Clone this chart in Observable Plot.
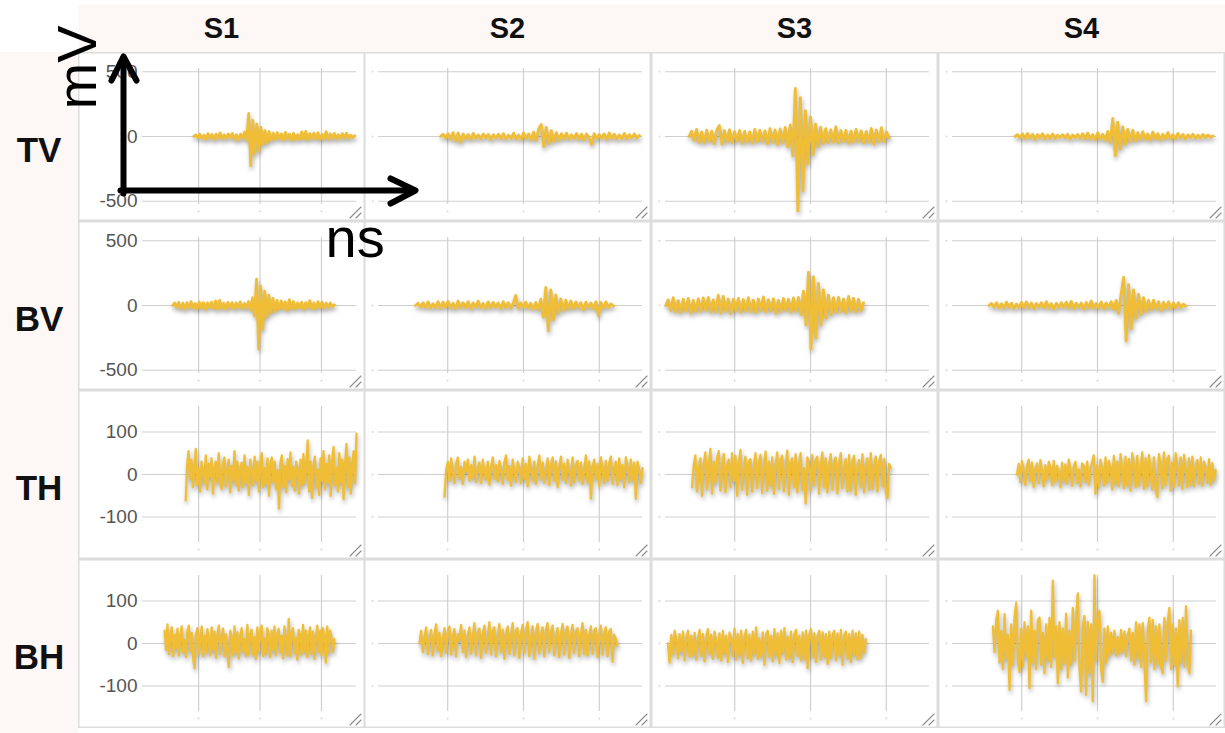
<!DOCTYPE html>
<html>
<head>
<meta charset="utf-8">
<script src="https://cdn.jsdelivr.net/npm/d3@7"></script>
<script src="https://cdn.jsdelivr.net/npm/@observablehq/plot@0.6"></script>
<style>
  html, body { margin: 0; padding: 0; background: #fff; }
  #chart { position: relative; width: 1225px; height: 733px; overflow: hidden;
           font-family: "Liberation Sans", Arial, Helvetica, sans-serif; }
  .band { position: absolute; background: #fdf7f6; }
  .colhead { position: absolute; display: flex; align-items: center; justify-content: center;
             font-weight: bold; font-size: 29px; color: #111; }
  .rowhead { position: absolute; display: flex; align-items: center; justify-content: center;
             font-weight: bold; font-size: 35px; color: #111; box-sizing: border-box; }
  .panel { position: absolute; box-shadow: inset 0 0 0 1.5px #dcdcdc; }
  .panel svg { position: absolute; left: 0; top: 0; }
  .panel g[aria-label="line"] { filter: drop-shadow(1px 3px 2px rgba(0, 0, 0, 0.32)); }
  #guides { position: absolute; left: 0; top: 0; pointer-events: none; }
</style>
</head>
<body>
<div id="chart"></div>
<script>
// Sensors (columns) and channels (rows)
const sensors = ["S1", "S2", "S3", "S4"];
const channels = ["TV", "BV", "TH", "BH"];

// Axis ticks: time in ns, amplitude in mV
const timeTicks = [100, 200, 300];
const timeDomain = [8.7, 357];
const verticalTicks = [-500, 0, 500];
const horizontalTicks = [-100, 0, 100];
const verticalDomain = [-525, 525];
const horizontalDomain = [-160, 160];

// Record start / end time (ns) per channel row, per sensor column
const startNs = [
  [92, 90.5, 39.7, 91.2],
  [57.7, 57.5, 9, 56.9],
  [79, 95.8, 43.7, 93.8],
  [44.7, 62.8, 12, 62]
];
const endNs = [
  [354, 353, 303.6, 352.4],
  [321, 318.7, 270, 316.7],
  [357, 357, 306, 356],
  [321, 324, 273, 323.4]
];

// Sampled traces (mV), evenly spaced between start and end
const tvS1 = [0, 12, -8, 18, -14, 10, -20, 22, -12, 16, -24, 18, -10, 28, -18, 12, -16, 20, -8, 24, -22, 14, -28, 18, -12, 35, -30,
  178, -225, 124, -132, 95, -110, 70, -60, 45, -50, 38, -30,
  25, -22, 30, -18, 20, -28, 32, -15, 18, -30, 25, -20, 14, -24, 35, -18, 40, -26, 22, -14, 26, -20, 30, -24, 16, -18, 38, -22, 20, -16, 24, -20, 14, -12, 22, -16, 26, -14, 10, -8, 6];
const tvS2 = [0, 18, -12, 22, -20, 30, -35, 28, -45, 20, -18, 15, -22, 24, -14, 12, -18, 20, -10, 16, -24, 14, -12, 18, -16, 22, -20, 10, -14, 26, -18, 12, -22, 28, -16, 20, -26, 35,
  -30, 60, 93, -78, 70, -55, 45, -40, 30, -28,
  22, -18, 26, -20, 14, -16, 24, -22, 18, -26, 20, -14, -60, 22, -18, 16, -12, 20, -24, 28, -14, 18, -20, 12, -16, 24, -18, 14, -10, 20, -12, 8];
const tvS3 = [0, 40, -30, 55, -45, 35, -50, 48, -38, 42, -55, 50, 85, -60, 45, -40, 52, -48, 38, -35, 46, -52, 40, -44, 36, -50, 55, -42, 48, -38, 44, -56, 60, -45, 50, -62, 58, -48, 70, -80, 90,
  -150, 372, -574, 300, -420, 200, -210, 150, -140, 95, -80, 70,
  -55, 60, -48, 52, -45, 75, -50, 45, -40, 48, -52, 42, -46, 55, -38, 44, -50, 40, -45, 62, -58, 50, -42, 68, -40, 35, -10];
const tvS4 = [0, 14, -10, 20, -16, 24, -12, 18, -22, 15, -10, 22, -18, 12, -14, 20, -16, 10, -8, 14, -12, 18, -20, 12, -10, 16, -14, 22, -18, 26, -20, 14, -24, 30, -22, 18, -28, 40,
  -50, 140, -147, 110, -95, 75, -60, 55, -40, 48, -35, 30,
  -25, 38, -22, 20, -30, 35, -18, 22, -28, 18, -16, 30, -20, 14, -18, 24, -12, 16, -20, 12, -10, 18, -14, 10, -12, 16, -8, 12, -6, 4];

const bvS1 = [0, 20, -15, 25, -22, 18, -28, 22, -16, 30, -20, 15, -25, 28, -18, 22, -30, 20, -14, 26, -22, 35, -28, 40, -20, 18, -30, 24, -16, 22, -26, 20, -18, 28, -24, 16, -20, 30, -35, 60,
  -80, 203, -336, 150, -180, 110, -90, 80, -60, 55, -45, 40,
  -30, 35, -25, 28, -38, 45, -22, 30, -26, 20, -18, 25, -30, 22, -16, 38, -28, 20, -24, 30, -18, 26, -22, 18, -14, 20, -10, 6];
const bvS2 = [0, 18, -12, 22, -16, 28, -20, 14, -18, 30, -22, 26, -14, 32, -20, 18, -24, 35, -16, 22, -18, 30, -26, 20, -14, 34, -20, 16, -22, 28, -18, 24, -12, 20, -26, 30, -16, 22, -20, 18, 78, -24, 20, -16, 26, -22, 18, -28, 24, -35, 50,
  -90, 140, -195, 120, -110, 80, -60, 50, -40, 42,
  -30, 35, -24, 28, -20, 22, -35, 26, -18, 20, -24, 30, -78, 25, -20, 28, -16, 12, -4];
const bvS3 = [0, 45, -40, 60, -50, 38, -55, 48, -42, 55, -60, 40, -48, 52, -45, 58, -38, 62, -52, 44, -50, 80, -58, 70, -45, 50, -62, 48, -40, 55, -52, 46, -44, 60, -48, 42, -56, 50, -40, 66, -50, 45, -42, 52, -60, 40, -46, 54, -38, 48, -52, 58, -45, 62, -70, 110,
  -150, 258, -336, 220, -250, 170, -150, 120, -100, 80, -70, 60,
  -55, 62, -48, 50, -58, 70, -45, 55, -50, 48, -40, 20];
const bvS4 = [0, 16, -12, 22, -18, 14, -20, 26, -14, 18, -22, 12, -16, 24, -20, 28, -15, 20, -24, 16, -12, 22, -18, 30, -20, 14, -26, 18, -16, 22, -14, 26, -20, 32, -24, 18, -16, 20, -28, 24, -18, 35, -22, 16, -20, 28, -26, 20, -18, 30, -32, 40, -60,
  90, 218, -273, 160, -180, 120, -100, 85, -70, 60, -48, 40,
  -35, 42, -28, 30, -40, 25, -22, 30, -26, 20, -18, 22, -14, 10, -4];

const thS1 = [-61, 20, 55, -10, 35, -30, 10, 60, -25, 15, -40, 30, 5, -20, 45, -35, 25, -5, 38, -45,
  15, 30, -20, 50, -10, -35, 25, 40, -28, 10, 35, -42, 20, -15, 55, -25, 30, -38, 12, 28,
  -30, 45, -20, 18, -48, 35, 8, -25, 42, -15, 30, -40, 22, 50, -30, 15, -22, 38, -50, 25,
  40, -18, 30, -35, 10, -80, 28, 45, -30, 20, -42, 36, -12, 52, -28, 18, -38, 30, 10, -45,
  35, -25, 48, -20, 15, 80, -40, 30, -55, 20, 42, -30, 12, -48, 38, -15, 55, -35, 25, -20,
  45, -50, 30, 65, -25, 15, -40, 50, -18, 35, -58, 22, 72, -30, 40, -45, 20, 55, -20, 96];
const thS2 = [-52, 10, 30, -15, 38, 5, -20, 25, 40, -10, 18, -22, 30, 8, 35, -15, 22, -8, 42, -18,
  12, 28, -20, 35, 5, -12, 30, -24, 18, 40, -10, 22, -16, 32, 10, -22, 28, 45, -14, 20,
  -26, 35, 8, -18, 30, 15, -20, 38, -10, 25, -28, 42, 12, -15, 30, -22, 20, 45, -12, 28,
  -20, 10, 38, -25, 22, 40, -15, 30, -30, 18, 42, -12, 25, -20, 35, 8, -26, 40, -18, 22,
  32, -15, 28, -22, 12, 45, -20, 30, -57, 18, 35, -10, 25, -28, 40, 10, -20, 32, -15, 28,
  42, -22, 15, 30, -25, 38, -10, 22, -30, 40, 18, -18, 35, -12, 28, -57, 30, 12, -20, 15];
const thS3 = [-30, 20, 45, -40, 10, 38, -50, 25, 52, -35, 15, 60, -45, 30, -20, 40, 55, -38, 12, 48,
  -42, 20, 35, -30, 50, -15, 44, -50, 22, 58, -36, 10, 42, -48, 30, 36, -40, 18, 50, -32,
  25, 46, -44, 15, 54, -38, 30, -25, 40, -46, 20, 52, -34, 35, 44, -40, 12, 56, -48, 28,
  38, -30, 48, -42, 20, 50, -36, 15, -68, 40, 30, -38, 46, -25, 34, 42, -45, 22, 52, -30,
  38, -42, 18, 48, -36, 30, 40, -44, 25, 50, -32, 15, 36, -40, 46, -38, 28, 44, -48, 20,
  34, -30, 48, -42, 22, 38, -36, 50, -34, 18, 42, -40, 30, 46, -28, 36, -40, -55, 25, 15];
const thS4 = [0, 25, -18, 32, 8, -25, 20, 35, -15, 28, -30, 12, 26, -20, 34, 5, -28, 22, -12, 30,
  15, -25, 32, -18, 20, 8, -30, 28, -15, 24, -22, 35, 10, -26, 18, 30, -20, 12, -28, 26,
  20, -18, 30, -24, 14, 28, 45, -45, 22, -30, 35, 10, -26, 40, -20, 32, 15, -35, 44, -22,
  30, -28, 48, 12, -32, 42, -25, 36, -38, 50, 20, -30, 44, -26, 15, 52, -34, 38, -28, 46,
  10, -36, 40, -30, -53, 48, 22, -32, 52, -25, 36, 44, -38, 28, -30, 50, 18, -26, 40, -34,
  46, 12, -30, 38, -24, 42, -28, 20, 34, -22, 40, -26, 30, 15, -20, 36, -24, 26, -15, 10];

const bhS1 = [30, -15, 45, -25, 12, 38, -30, 20, -10, 35, -28, 15, 40, -20, 8, -32, 30, 42, -18, 25,
  -35, -58, 22, 36, -25, 10, 40, -30, 18, -22, 34, 5, -28, 38, -15, 28, -34, 20, 42, -25,
  12, 35, -30, 22, -18, -55, 30, 15, -28, 40, -22, 26, -35, 18, 36, -20, 10, -30, 44, -25,
  20, 32, -28, 15, -36, 38, -18, 28, 42, -30, 12, -25, 36, 20, -32, 30, -15, 40, -28, 22,
  34, -20, 18, -35, 40, 10, -28, 58, -30, 25, 36, -22, 14, -38, 32, 20, -26, 44, -18, 30,
  -32, 15, 38, -25, 28, -36, 12, 42, -20, 30, -28, 36, 18, -45, 40, -22, 30, 12, -20, 10];
const bhS2 = [0, 30, -20, 15, 38, -25, 10, 32, -28, 20, 45, -18, 25, -30, 12, 36, -22, 28, 40, -26,
  15, 34, -30, 22, 8, 44, -20, 30, -32, 18, 38, -24, 12, 48, -28, 26, 35, -34, 20, 42,
  -22, 10, 50, -26, 30, 38, -30, 16, 46, -20, 32, -36, 24, 40, -25, 14, 48, -28, 30, 36,
  -34, 20, 44, -22, 28, 50, -30, 12, 40, -36, 26, 46, -24, 18, 38, -30, 32, 48, -20, 25,
  42, -28, 14, 36, -32, 22, 46, -26, 30, 40, -34, 16, 44, -22, 28, 36, -30, 20, 48, -25,
  32, -28, 18, 40, -24, 30, 36, -32, 14, 42, -26, 22, 38, -30, 28, 34, -43, 20, 12, -5];
const bhS3 = [0, -45, 20, -25, 30, 8, -35, 22, -20, 28, -40, 12, 30, -32, 18, -28, 25, -38, 10, 32,
  -30, 22, -42, 15, 34, -26, 20, -36, 28, 5, -34, 24, -40, 30, -22, 18, -44, 26, 12, -30,
  35, -38, 22, -28, 30, -46, 15, 32, -34, 20, -40, 28, -24, 38, -36, 12, -30, 26, -50, 22,
  30, -32, 18, -42, 34, -28, 24, -46, 30, -20, 36, -38, 16, -34, 28, -44, 22, 32, -30, 18,
  -40, 26, -36, 30, -58, 20, 34, -32, 24, -44, 18, 30, -38, 26, -30, 22, -48, 28, -34, 20,
  30, -40, 24, -28, 32, -50, 18, 28, -36, 22, -44, 30, -26, 24, -38, 28, -34, 20, -22, 10];
const bhS4 = [40, -20, 55, 77, -45, 30, -60, 69, -35, 20, -109, 45, -50, 60, 96, -40, -67, 35, -55, 50,
  -30, 40, -105, 77, -45, 30, -60, 55, 61, -50, 25, -70, 45, -40, 60, -55, 148, -30, 40, -94,
  50, -60, 35, -45, 70, -80, 30, -50, 84, -40, 60, 118, -55, -113, 40, 65, -121, 50, -70, 45,
  -136, 160, -40, 55, 77, -60, -90, 35, -45, 40, -30, 25, -20, 30, -28, 15, -25, 32, -18, 28,
  -30, 20, 35, -40, 25, -50, 50, -35, 45, -55, 48, -40, -136, 30, 61, -45, 55, -60, 40, -50,
  45, -55, -70, 60, -40, 50, 84, -60, 45, -50, 35, -101, 55, -45, 60, -55, 88, -40, -70, 30];

const traces = [
  [tvS1, tvS2, tvS3, tvS4],
  [bvS1, bvS2, bvS3, bvS4],
  [thS1, thS2, thS3, thS4],
  [bhS1, bhS2, bhS3, bhS4]
];

// Unit guides drawn over the first panel
const guideStrokes = [
  {g: "yShaft", x: 123, y: 193}, {g: "yShaft", x: 123, y: 57},
  {g: "yHead", x: 111, y: 80}, {g: "yHead", x: 123, y: 56}, {g: "yHead", x: 136, y: 80},
  {g: "xShaft", x: 120, y: 190}, {g: "xShaft", x: 414, y: 190},
  {g: "xHead", x: 390, y: 178}, {g: "xHead", x: 415, y: 190}, {g: "xHead", x: 390, y: 203}
];
const unitY = [{text: "mV", x: 95, y: 67}];
const unitX = [{text: "ns", x: 325, y: 256}];

const waveColor = "#f0be36";
const gridColor = "#cfcfcf";

// Layout of the grid of panels
const chart = document.getElementById("chart");
const W = 1225, H = 733;
const headerLeft = 78, headerTop = 5, headerBottom = 52;
const colLeft = [78, 364, 651, 938], colWidth = 287;
const rowTop = [52, 221, 390, 559], rowHeight = 169;

function addDiv(cls, css, text) {
  const d = document.createElement("div");
  d.className = cls;
  Object.assign(d.style, css);
  if (text != null) d.textContent = text;
  chart.appendChild(d);
  return d;
}

addDiv("band", {left: headerLeft + "px", top: headerTop + "px", width: (W - headerLeft) + "px", height: (headerBottom - headerTop) + "px"});
addDiv("band", {left: "0px", top: headerBottom + "px", width: headerLeft + "px", height: (H - headerBottom) + "px"});

sensors.forEach((s, c) => {
  addDiv("colhead", {left: colLeft[c] + "px", top: headerTop + "px", width: colWidth + "px", height: (headerBottom - headerTop) + "px"}, s);
});
channels.forEach((ch, r) => {
  addDiv("rowhead", {left: "0px", top: rowTop[r] + "px", width: headerLeft + "px", height: rowHeight + "px", paddingTop: "26px"}, ch);
});

// Resize grip in the bottom-right corner of each panel
function grip(index, scales, values, dims) {
  const g = d3.create("svg:g").attr("stroke", "#8c8c8c").attr("stroke-width", 1.1).attr("stroke-linecap", "round");
  const x = dims.width - 4, y = dims.height - 3;
  g.append("line").attr("x1", x - 11).attr("y1", y).attr("x2", x).attr("y2", y - 11);
  g.append("line").attr("x1", x - 5).attr("y1", y).attr("x2", x).attr("y2", y - 5);
  return g.node();
}

function panel(r, c) {
  const values = traces[r][c];
  const t0 = startNs[r][c], t1 = endNs[r][c];
  const step = (t1 - t0) / (values.length - 1);
  const samples = values.map((v, i) => ({t: t0 + i * step, v}));
  const isVertical = r < 2;
  const yTicks = isVertical ? verticalTicks : horizontalTicks;
  const first = c === 0;

  const marks = [
    Plot.ruleX(timeTicks, {stroke: gridColor, strokeWidth: 1.2}),
    Plot.ruleY(yTicks, {stroke: gridColor, strokeWidth: 1.2}),
    Plot.dot(timeTicks, {x: d => d, frameAnchor: "bottom", dy: 7, r: 0.9, fill: "#d6d6d6"}),
    Plot.line(samples, {x: "t", y: "v", stroke: waveColor, strokeWidth: isVertical ? 2.8 : 2.3, strokeLinejoin: "round"}),
    grip
  ];
  if (first) {
    marks.push(Plot.axisY(yTicks, {tickSize: 0, tickPadding: 5, fontSize: 19, label: null, tickFormat: d => String(d)}));
  } else {
    marks.push(Plot.dot(yTicks, {y: d => d, frameAnchor: "left", dx: -6, r: 0.9, fill: "#d6d6d6"}));
  }

  return Plot.plot({
    width: colWidth,
    height: rowHeight,
    marginTop: 16,
    marginBottom: 17,
    marginLeft: first ? 64 : 14,
    marginRight: 9,
    style: {background: "transparent", overflow: "visible", color: "#555",
            fontFamily: "'Liberation Sans', Arial, Helvetica, sans-serif"},
    x: {domain: timeDomain, axis: null},
    y: {domain: isVertical ? verticalDomain : horizontalDomain, axis: null},
    marks
  });
}

channels.forEach((ch, r) => {
  sensors.forEach((s, c) => {
    const box = addDiv("panel", {left: colLeft[c] + "px", top: rowTop[r] + "px", width: colWidth + "px", height: rowHeight + "px"});
    box.appendChild(panel(r, c));
  });
});

// Axis-unit guides (mV up, ns right)
const guides = Plot.plot({
  width: W, height: H,
  margin: 0,
  style: {background: "transparent", overflow: "visible", fontFamily: "'Liberation Sans', Arial, Helvetica, sans-serif"},
  x: {domain: [0, W], range: [0, W], axis: null},
  y: {domain: [0, H], range: [0, H], axis: null},
  marks: [
    Plot.line(guideStrokes, {x: "x", y: "y", z: "g", stroke: "#000", strokeWidth: 6, strokeLinejoin: "round", strokeLinecap: "round"}),
    Plot.text(unitY, {x: "x", y: "y", text: "text", rotate: -90, textAnchor: "middle", lineAnchor: "bottom", fontSize: 56, fill: "#000"}),
    Plot.text(unitX, {x: "x", y: "y", text: "text", textAnchor: "start", lineAnchor: "bottom", fontSize: 56, fill: "#000"})
  ]
});
guides.id = "guides";
chart.appendChild(guides);
</script>
</body>
</html>
